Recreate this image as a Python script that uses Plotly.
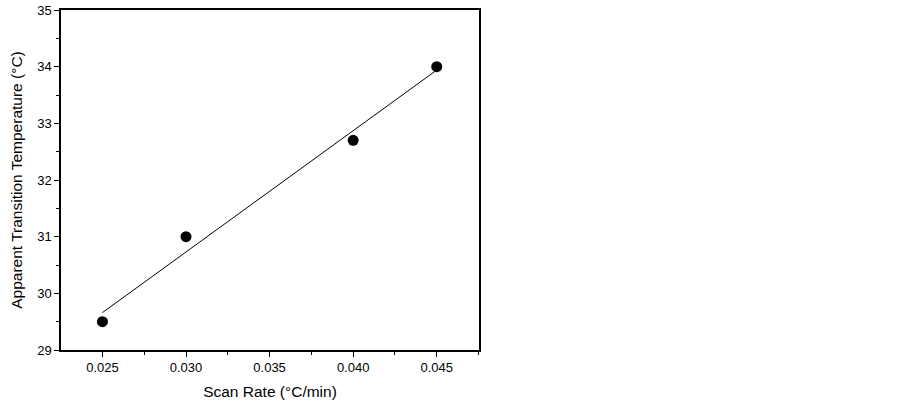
import plotly.graph_objects as go

scan_rate = [0.025, 0.030, 0.040, 0.045]
temperature = [29.5, 31.0, 32.7, 34.0]
fit_x = [0.025, 0.045]
fit_y = [29.66, 33.94]

x_ticks = [0.025, 0.030, 0.035, 0.040, 0.045]
x_ticklabels = ["0.025", "0.030", "0.035", "0.040", "0.045"]
y_ticks = [29, 30, 31, 32, 33, 34, 35]

FONT = "Liberation Sans, Arial"

fig = go.Figure()
fig.add_trace(go.Scatter(x=fit_x, y=fit_y, mode="lines",
                         line=dict(color="black", width=1), showlegend=False))
fig.add_trace(go.Scatter(x=scan_rate, y=temperature, mode="markers",
                         marker=dict(color="black", size=11), showlegend=False))

axis_common = dict(showline=True, linecolor="black", linewidth=1.5, mirror=True,
                   ticks="outside", tickcolor="black", ticklen=5, tickwidth=1,
                   showgrid=False, zeroline=False, automargin=False,
                   tickfont=dict(family=FONT, size=13, color="black"))

fig.update_layout(
    width=903, height=406,
    margin=dict(l=61, r=424, t=10, b=56),
    plot_bgcolor="white", paper_bgcolor="white",
    xaxis=dict(range=[0.02252, 0.04753], tickvals=x_ticks, ticktext=x_ticklabels,
               minor=dict(dtick=0.0025, tick0=0.0225, ticks="outside", ticklen=3, tickcolor="black"),
               title=dict(text="Scan Rate (°C/min)", standoff=12,
                          font=dict(family=FONT, size=15.5, color="black")),
               **axis_common),
    yaxis=dict(range=[29, 35], tickvals=y_ticks,
               minor=dict(dtick=0.5, tick0=29, ticks="outside", ticklen=3, tickcolor="black"),
               title=dict(text="Apparent Transition Temperature (°C)", standoff=11,
                          font=dict(family=FONT, size=15.5, color="black")),
               **axis_common),
)

fig.write_html("out.html", config={"displayModeBar": False},
               post_script="document.body.style.margin='0px';document.body.style.overflow='hidden';")
